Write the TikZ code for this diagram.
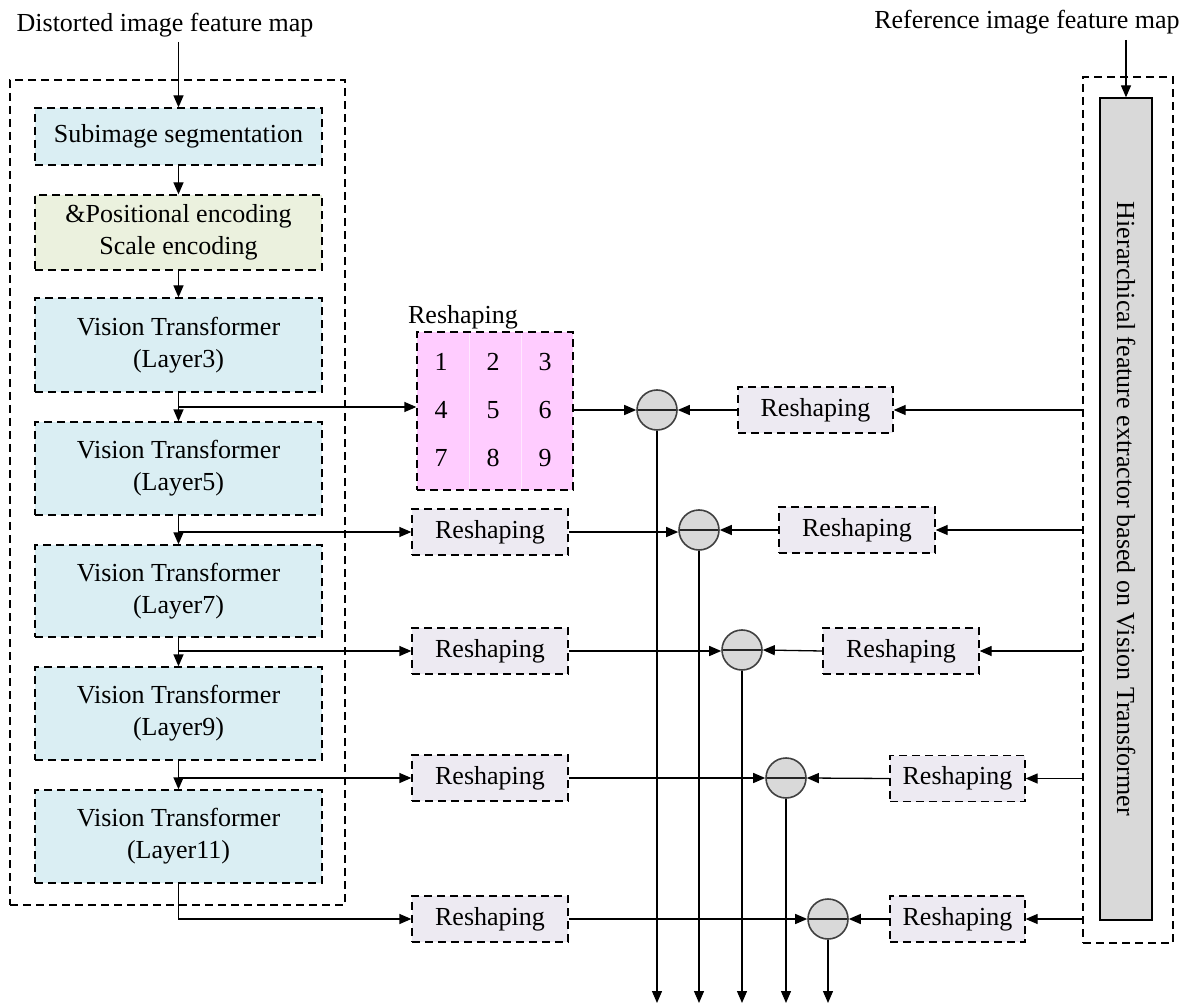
\documentclass[tikz,border=0pt]{standalone}
\usepackage{fontspec}
\setmainfont{Liberation Serif}
\usetikzlibrary{arrows.meta}
\definecolor{vtblue}{HTML}{DAEEF3}
\definecolor{encgreen}{HTML}{EBF1DE}
\definecolor{gridpink}{HTML}{FFCCFF}
\definecolor{reslav}{HTML}{EDEAF2}
\definecolor{barg}{HTML}{D9D9D9}
\begin{document}
\begin{tikzpicture}[x=1pt,y=-1pt,
  font=\fontsize{26}{32}\selectfont,
  line width=1.3pt,
  dsh/.style={dash pattern=on 8pt off 5pt},
  arr/.style={-{Triangle[length=12pt,width=10pt]}},
  stage/.style={draw, dsh, minimum width=287pt, inner sep=0pt, align=center},
  resh/.style={draw, dsh, fill=reslav, minimum height=46pt, inner sep=0pt},
  sub/.style={circle, draw=black!75, line width=1.6pt, fill=barg, minimum size=40pt, inner sep=0pt,
    path picture={\draw[black!85, line width=1.3pt] (path picture bounding box.west) -- (path picture bounding box.east);}},
  num/.style={inner sep=0pt}
]
\useasboundingbox (0,0) rectangle (1192,1008);

% input labels
\node (tin) at (165,25) {Distorted image feature map};
\node (rin) at (1027,22) {Reference image feature map};

% left encoder stack
\node[draw, dsh, minimum width=335pt, minimum height=825pt] (lbox) at (177.5,492.5) {};
\node[stage, fill=vtblue, minimum height=57pt] (seg) at (178.5,136.5) {Subimage segmentation};
\node[stage, fill=encgreen, minimum height=75pt] (enc) at (178.5,232.5) {\&Positional encoding\\Scale encoding};
\node[stage, fill=vtblue, minimum height=94pt] (l3) at (178.5,345) {Vision Transformer\\(Layer3)};
\node[stage, fill=vtblue, minimum height=93pt] (l5) at (178.5,468.5) {Vision Transformer\\(Layer5)};
\node[stage, fill=vtblue, minimum height=92pt] (l7) at (178.5,591) {Vision Transformer\\(Layer7)};
\node[stage, fill=vtblue, minimum height=93pt] (l9) at (178.5,713.5) {Vision Transformer\\(Layer9)};
\node[stage, fill=vtblue, minimum height=93pt] (l11) at (178.5,836.5) {Vision Transformer\\(Layer11)};

\coordinate (tinb) at (178.5,42);
\draw[arr] (tinb) -- (seg.north);
\draw[arr] (seg) -- (enc);
\draw[arr] (enc) -- (l3);
\draw[arr] (l3) -- (l5);
\draw[arr] (l5) -- (l7);
\draw[arr] (l7) -- (l9);
\draw[arr] (l9) -- (l11);

% reshaped token grid
\node[draw, dsh, fill=gridpink, minimum width=156pt, minimum height=158pt, inner sep=0pt] (grid) at (495,411) {};
\draw[gridpink!45!white, line width=0.6pt] (469,333) -- (469,489) (521,333) -- (521,489);
\node (gt) at (463,317) {Reshaping};
\foreach \n/\gx/\gy in {1/441/362,2/493/362,3/545/362,4/441/410,5/493/410,6/545/410,7/441/458,8/493/458,9/545/458}
  \node[num] (g\n) at (\gx,\gy) {\n};

% left reshaping boxes
\node[resh, minimum width=156pt] (a2) at (490,532) {Reshaping};
\node[resh, minimum width=156pt] (a3) at (490,651) {Reshaping};
\node[resh, minimum width=156pt] (a4) at (490,778) {Reshaping};
\node[resh, minimum width=156pt] (a5) at (490,919) {Reshaping};

% branches from the encoder stack
\coordinate (j3) at (178.5,407);
\coordinate (j5) at (178.5,532);
\coordinate (j7) at (178.5,651);
\coordinate (j9) at (178.5,778);
\draw[arr] (j3) -- (grid.west |- j3);
\draw[arr] (j5) -- (a2.west);
\draw[arr] (j7) -- (a3.west);
\draw[arr] (j9) -- (a4.west);
\draw[arr] (l11.south) |- (a5.west);

% reference branch
\node[draw, dsh, minimum width=90pt, minimum height=866pt] (rbox) at (1128,510) {};
\node[draw, fill=barg, minimum width=52pt, minimum height=822pt, inner sep=0pt] (bar) at (1126,509) {};
\node[rotate=-90] (bart) at (1126,509) {Hierarchical feature extractor based on Vision Transformer};
\coordinate (rinb) at (1126,40);
\draw[arr] (rinb) -- (bar.north);

% right reshaping boxes
\node[resh, minimum width=155pt] (b1) at (815.5,410) {Reshaping};
\node[resh, minimum width=156pt] (b2) at (857,530) {Reshaping};
\node[resh, minimum width=156pt] (b3) at (901,651) {Reshaping};
\node[resh, minimum width=135pt] (b4) at (957.5,778.5) {Reshaping};
\node[resh, minimum width=135pt] (b5) at (957.5,919) {Reshaping};

\foreach \i in {1,...,5}
  \draw[arr] (rbox.west |- b\i.east) -- (b\i.east);

% subtraction nodes
\node[sub] (c1) at (657,410) {};
\node[sub] (c2) at (699,530) {};
\node[sub] (c3) at (742,650) {};
\node[sub] (c4) at (786,778) {};
\node[sub] (c5) at (828,919) {};

\draw[arr] (grid.east |- c1) -- (c1.west);
\draw[arr] (a2.east) -- (a2.east -| c2.west);
\draw[arr] (a3.east) -- (a3.east -| c3.west);
\draw[arr] (a4.east) -- (a4.east -| c4.west);
\draw[arr] (a5.east) -- (a5.east -| c5.west);
\foreach \i in {1,...,5}
  \draw[arr] (b\i.west) -- (c\i.east);

% outputs
\foreach \i in {1,...,5} {
  \coordinate (o\i) at (c\i.south |- 0,1003);
  \draw[arr] (c\i.south) -- (o\i);
}
\end{tikzpicture}
\end{document}
